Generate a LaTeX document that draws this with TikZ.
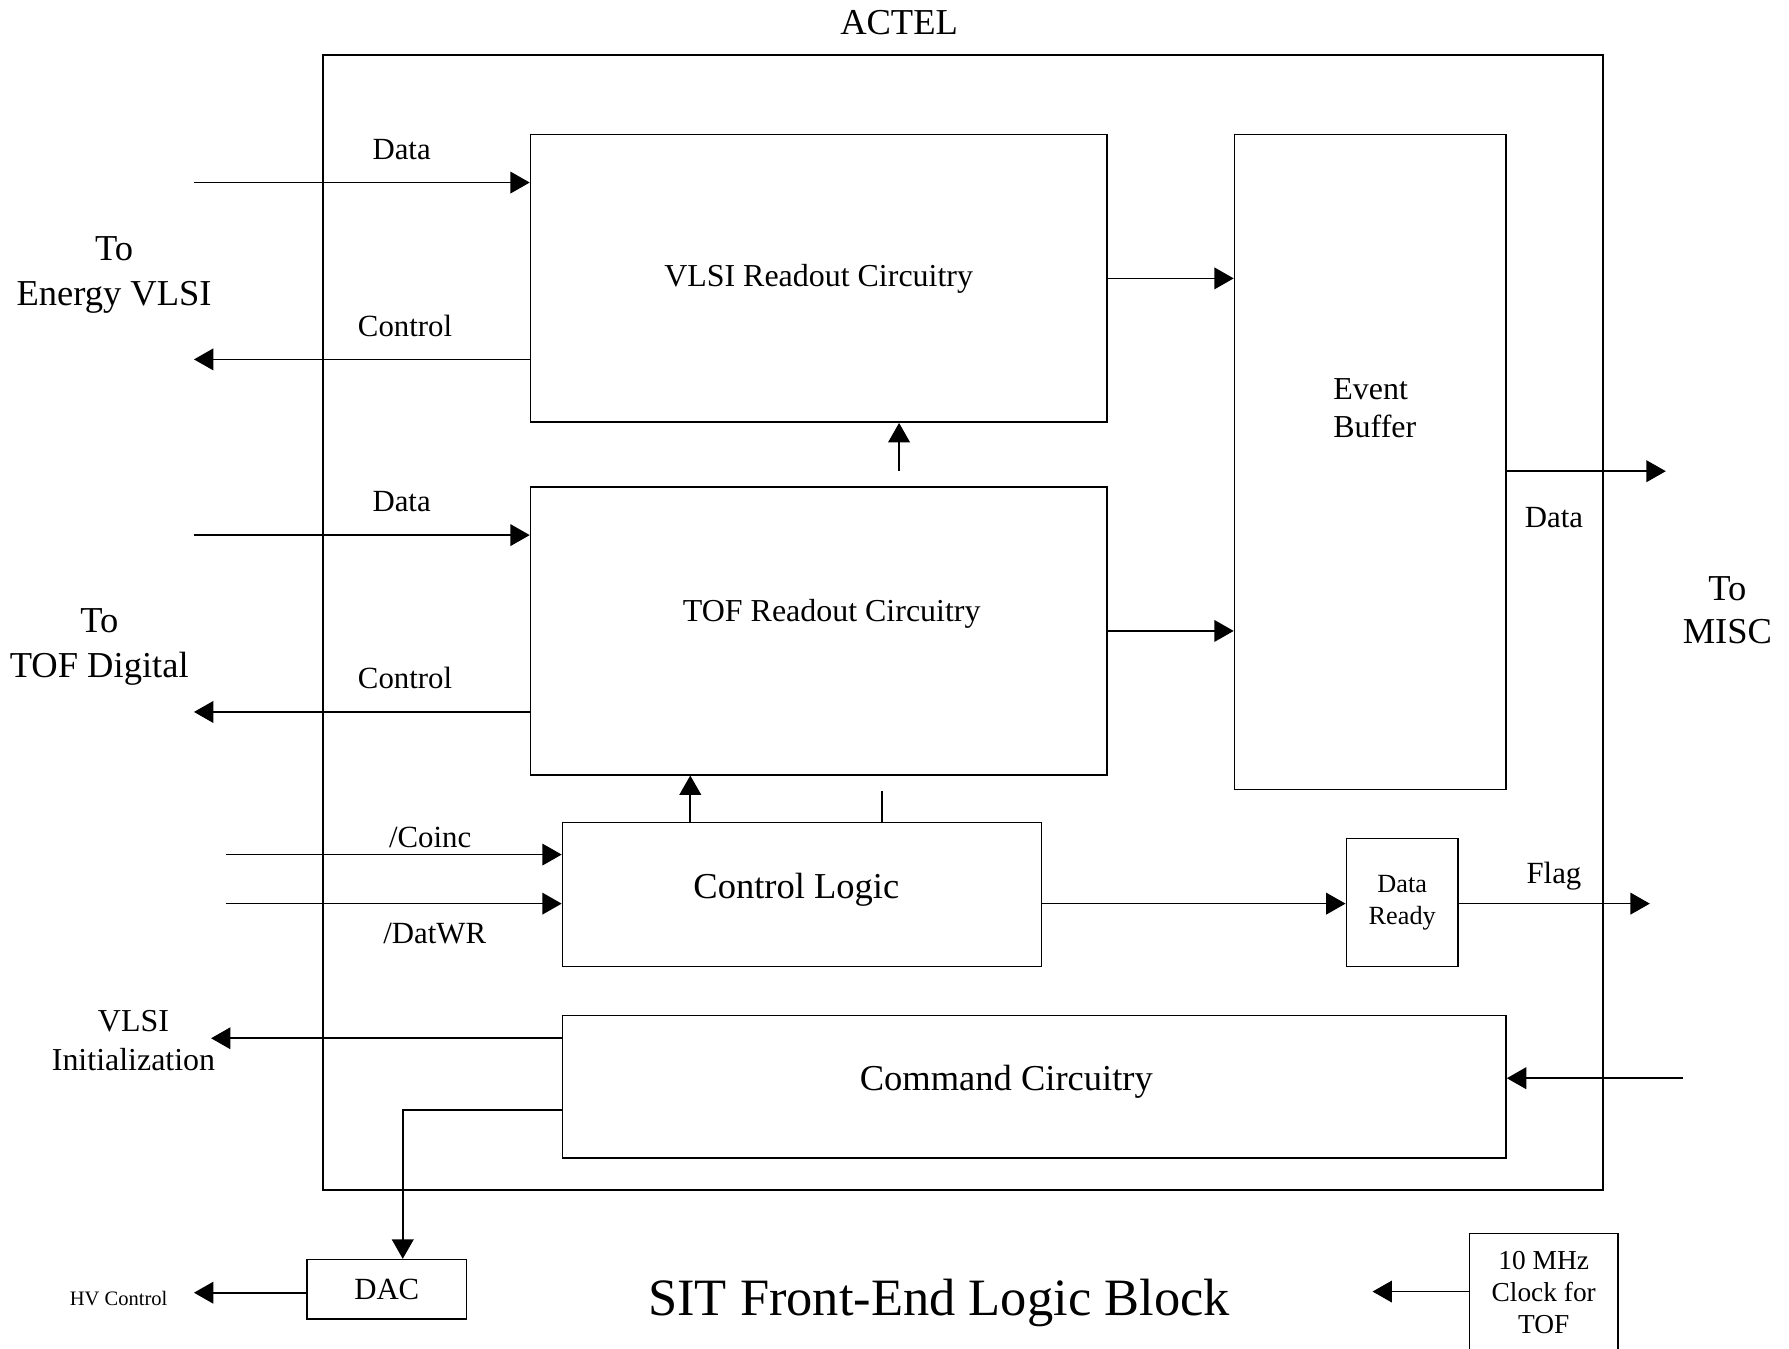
\documentclass[tikz,border=0pt]{standalone}
\usepackage{fontspec}
\setmainfont{Liberation Serif}
\usetikzlibrary{arrows.meta}

\newcommand{\fsz}[2]{\fontsize{#1}{#2}\selectfont}

\begin{document}
\begin{tikzpicture}[x=1pt,y=-1pt,
  line width=1.4pt,
  box/.style={draw, rectangle, inner sep=0pt, line width=1.4pt, align=center},
  lbl/.style={inner sep=0pt, align=center},
  sig/.style={-{Triangle[length=17pt,width=19pt]}},
]
\useasboundingbox (0,0) rectangle (1568,1182);
\clip (0,0) rectangle (1568,1182);

% ---- blocks ----
\node[box, minimum width=1122pt, minimum height=995pt] (actel) at (844,545.5) {};
\node[box, minimum width=505pt, minimum height=252pt, font=\fsz{28}{33}] (vlsi) at (717.5,244) {VLSI Readout Circuitry};
\node[box, minimum width=505pt, minimum height=252pt] (tof) at (717.5,553) {};
\node[box, minimum width=238pt, minimum height=574pt] (evbuf) at (1201,405) {};
\node[box, minimum width=420pt, minimum height=126pt] (ctrl) at (703,784) {};
\node[box, minimum width=98pt, minimum height=112pt, font=\fsz{23}{28}] (ready) at (1229,791) {Data\\Ready};
\node[box, minimum width=827pt, minimum height=125pt] (cmd) at (906.5,952.5) {};
\node[box, minimum width=140pt, minimum height=52pt, font=\fsz{27}{32}] (dac) at (339,1130) {DAC};
\node[box, minimum width=130pt, minimum height=119pt] (clk) at (1353,1140.5) {};

% ---- texts ----
\node[lbl, font=\fsz{32}{38}] (tactel) at (788,20) {ACTEL};
\node[lbl, font=\fsz{28}{33}] (ttof) at (729,538) {TOF Readout Circuitry};
\node[lbl, font=\fsz{28}{33}, align=left, anchor=west] (tevbuf) at (1168,358) {Event\\Buffer};
\node[lbl, font=\fsz{32}{38}] (tctrl) at (698,780) {Control Logic};
\node[lbl, font=\fsz{32}{38}] (tcmd) at (882,948) {Command Circuitry};
\node[lbl, font=\fsz{24}{28}] (tclk) at (1353,1133) {10 MHz\\Clock for\\TOF};

\node[lbl, font=\fsz{32}{39}] (tenergy) at (100,241) {To\\Energy VLSI};
\node[lbl, font=\fsz{32}{39}] (ttofd) at (87,567) {To\\TOF Digital};
\node[lbl, font=\fsz{32}{38}] (tmisc) at (1514,535) {To\\MISC};
\node[lbl, font=\fsz{28}{35}] (tinit) at (117,912) {VLSI\\Initialization};
\node[lbl, font=\fsz{18}{22}] (thv) at (104,1138) {HV Control};
\node[lbl, font=\fsz{46}{54}] (ttitle) at (823,1142) {SIT Front-End Logic Block};

\node[lbl, font=\fsz{27}{32}] (ldata1) at (352,131) {Data};
\node[lbl, font=\fsz{27}{32}] (lctrl1) at (355,286) {Control};
\node[lbl, font=\fsz{27}{32}] (ldata2) at (352,440) {Data};
\node[lbl, font=\fsz{27}{32}] (lctrl2) at (355,594) {Control};
\node[lbl, font=\fsz{27}{32}] (ldata3) at (1362,454) {Data};
\node[lbl, font=\fsz{27}{32}] (lcoinc) at (377,734) {/Coinc};
\node[lbl, font=\fsz{27}{32}] (ldatwr) at (381,818) {/DatWR};
\node[lbl, font=\fsz{27}{32}] (lflag) at (1362,768) {Flag};

% ---- free ends of the signal lines ----
\coordinate (eData) at (170,160);
\coordinate (eCtrl) at (170,315);
\coordinate (tData) at (170,469);
\coordinate (tCtrl) at (170,624);
\coordinate (mData) at (1460,413);
\coordinate (tofUp) at (788,413);
\coordinate (ctrlUp) at (605,721);
\coordinate (ctrlStub) at (773,693);
\coordinate (coinc) at (198,749);
\coordinate (datwr) at (198,792);
\coordinate (flag) at (1446,792);
\coordinate (init) at (185,910);
\coordinate (dacBend) at (353,973);
\coordinate (cmdIn) at (1475,945);
\coordinate (hv) at (170,1133);
\coordinate (clkOut) at (1203,1132);

% ---- connectors ----
\draw[sig] (eData) -- (eData -| vlsi.west);
\draw[sig] (eCtrl -| vlsi.west) -- (eCtrl);
\draw[sig] (tData) -- (tData -| tof.west);
\draw[sig] (tCtrl -| tof.west) -- (tCtrl);
\draw[sig] (vlsi.east) -- (vlsi.east -| evbuf.west);
\draw[sig] (tof.east) -- (tof.east -| evbuf.west);
\draw[sig] (mData -| evbuf.east) -- (mData);
\draw[sig] (tofUp) -- (tofUp |- vlsi.south);
\draw[sig] (ctrlUp) -- (ctrlUp |- tof.south);
\draw (ctrlStub |- ctrl.north) -- (ctrlStub);
\draw[sig] (coinc) -- (coinc -| ctrl.west);
\draw[sig] (datwr) -- (datwr -| ctrl.west);
\draw[sig] (datwr -| ctrl.east) -- (datwr -| ready.west);
\draw[sig] (datwr -| ready.east) -- (flag);
\draw[sig] (init -| cmd.west) -- (init);
\draw[sig] (dacBend -| cmd.west) -- (dacBend) -- (dacBend |- dac.north);
\draw[sig] (cmdIn) -- (cmdIn -| cmd.east);
\draw[sig] (hv -| dac.west) -- (hv);
\draw[sig] (clkOut -| clk.west) -- (clkOut);
\end{tikzpicture}
\end{document}
